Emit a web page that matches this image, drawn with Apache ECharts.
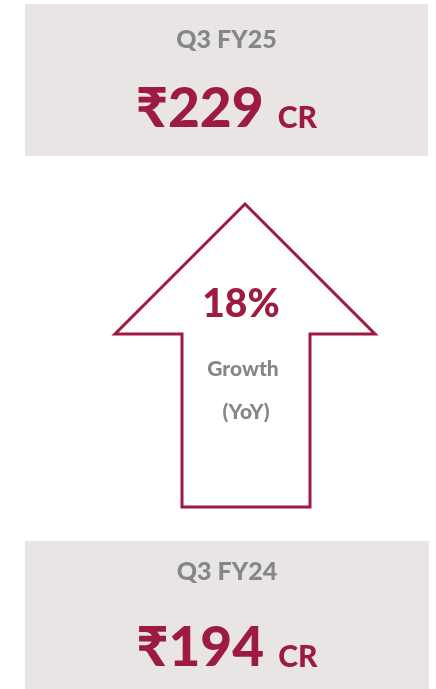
<!DOCTYPE html>
<html>
<head>
<meta charset="utf-8">
<script src="https://cdn.jsdelivr.net/npm/echarts@6/dist/echarts.min.js"></script>
<style>
  html, body { margin: 0; padding: 0; background: #ffffff; }
  #chart { width: 436px; height: 689px; }
</style>
</head>
<body>
<div id="chart"></div>
<script>
// Quarterly revenue, current quarter first
const periods = ['Q3 FY25', 'Q3 FY24'];
const revenueCr = [229, 194];
const currencySign = '₹';
const unitLabel = 'CR';
const growthPct = 18;
const growthLabel = ['Growth', '(YoY)'];

const FONT = 'Lato, "Noto Sans", "DejaVu Sans", sans-serif';
const WEIGHT = '900';
const RED = '#9d1b3e';
const GREY = '#85868a';
const PANEL = '#e9e5e4';

const chart = echarts.init(document.getElementById('chart'), null, { renderer: 'canvas' });

function font(size) {
  return WEIGHT + ' ' + size + 'px ' + FONT;
}

// measure text so the amount and its unit can sit side by side, centred
const measureCtx = document.createElement('canvas').getContext('2d');
function textWidth(str, size) {
  measureCtx.font = font(size);
  return measureCtx.measureText(str).width;
}

const panels = [
  { x0: 25, y0: 4, x1: 428, y1: 156, titleY: 40, amountY: 109, unitY: 118 },
  { x0: 25, y0: 541, x1: 429, y1: 689, titleY: 572, amountY: 648, unitY: 657 }
];

const AMOUNT_SIZE = 55;
const UNIT_SIZE = 30;
const GAP = 14;

const elements = [];

panels.forEach(function (p, i) {
  const cx = (p.x0 + p.x1) / 2;
  elements.push({
    type: 'rect',
    shape: { x: p.x0, y: p.y0, width: p.x1 - p.x0, height: p.y1 - p.y0 },
    style: { fill: PANEL }
  });
  elements.push({
    type: 'text',
    x: cx, y: p.titleY,
    style: {
      text: periods[i], fill: GREY, font: font(25),
      align: 'center', verticalAlign: 'middle'
    }
  });
  const amount = currencySign + revenueCr[i];
  const wA = textWidth(amount, AMOUNT_SIZE);
  const wU = textWidth(unitLabel, UNIT_SIZE);
  const left = cx - (wA + GAP + wU) / 2;
  elements.push({
    type: 'text',
    x: left, y: p.amountY,
    style: {
      text: amount, fill: RED, font: font(AMOUNT_SIZE),
      align: 'left', verticalAlign: 'middle'
    }
  });
  elements.push({
    type: 'text',
    x: left + wA + GAP, y: p.unitY,
    style: {
      text: unitLabel, fill: RED, font: font(UNIT_SIZE),
      align: 'left', verticalAlign: 'middle'
    }
  });
});

// upward arrow outline
elements.push({
  type: 'polygon',
  shape: {
    points: [
      [245, 204], [375, 334], [310, 334], [310, 507],
      [182, 507], [182, 334], [115, 334]
    ]
  },
  style: { fill: '#ffffff', stroke: RED, lineWidth: 3, lineJoin: 'miter' }
});

elements.push({
  type: 'text', x: 241, y: 304,
  style: {
    text: growthPct + '%', fill: RED, font: font(39),
    align: 'center', verticalAlign: 'middle'
  }
});
elements.push({
  type: 'text', x: 243, y: 369,
  style: {
    text: growthLabel[0], fill: GREY, font: font(21),
    align: 'center', verticalAlign: 'middle'
  }
});
elements.push({
  type: 'text', x: 246, y: 412,
  style: {
    text: growthLabel[1], fill: GREY, font: font(21),
    align: 'center', verticalAlign: 'middle'
  }
});

chart.setOption({
  backgroundColor: '#ffffff',
  animation: false,
  graphic: { elements: elements }
});
</script>
</body>
</html>
